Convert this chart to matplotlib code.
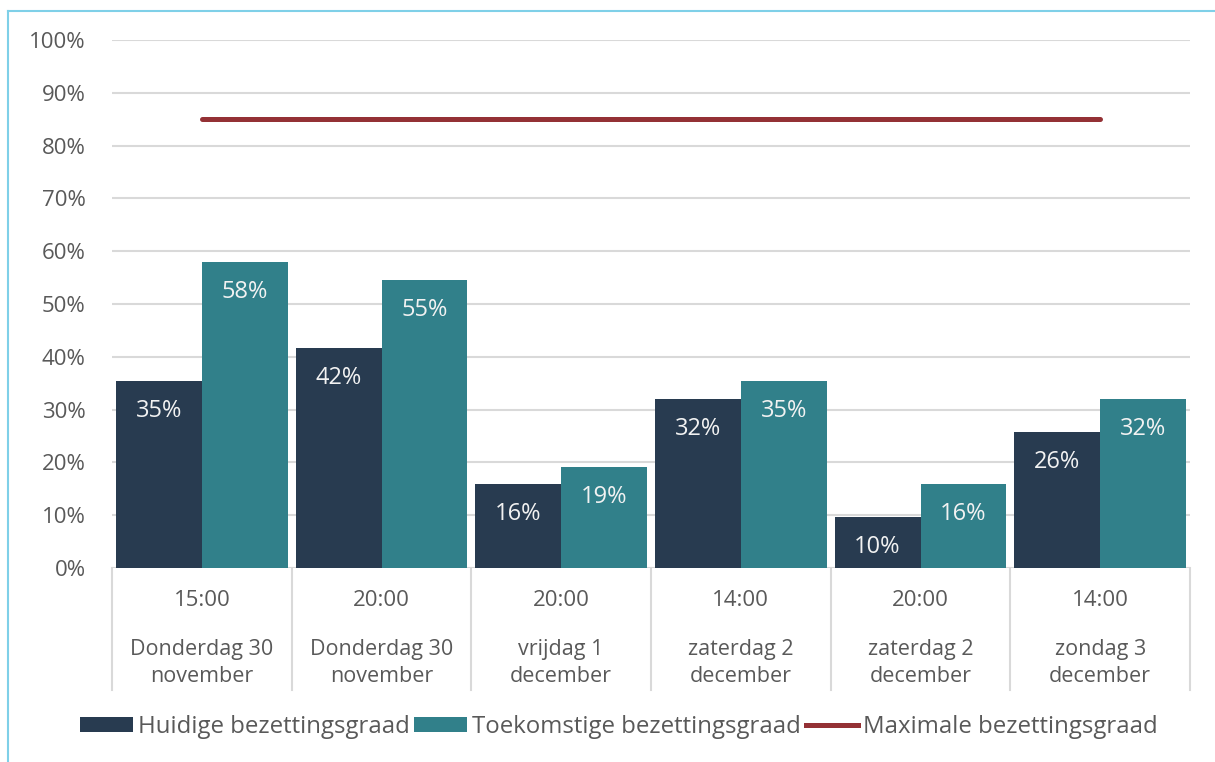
import matplotlib.pyplot as plt
import numpy as np
from matplotlib.patches import Patch
from matplotlib.lines import Line2D
from matplotlib.transforms import blended_transform_factory

plt.rcParams['font.family'] = ['Open Sans', 'DejaVu Sans']
plt.rcParams['font.size'] = 16

# data
times = ['15:00', '20:00', '20:00', '14:00', '20:00', '14:00']
days = ['Donderdag 30\nnovember', 'Donderdag 30\nnovember', 'vrijdag 1\ndecember',
        'zaterdag 2\ndecember', 'zaterdag 2\ndecember', 'zondag 3\ndecember']
huidig = [0.354, 0.417, 0.159, 0.320, 0.096, 0.258]
toekomst = [0.580, 0.546, 0.191, 0.354, 0.159, 0.320]
maximaal = [0.85] * 6

navy = '#283b50'
teal = '#31808a'
red = '#943135'
grey = '#595959'
gridc = '#d9d9d9'

W, H = 1215, 762
fig = plt.figure(figsize=(W / 100, H / 100), dpi=100)
fig.patch.set_facecolor('white')

ax = fig.add_axes([112 / W, (H - 568) / H, 1078 / W, 528 / H])
x = np.arange(len(times))
bw = 0.478

b1 = ax.bar(x - bw / 2, huidig, bw, color=navy, zorder=3)
b2 = ax.bar(x + bw / 2, toekomst, bw, color=teal, zorder=3)
ax.plot(x, maximaal, color=red, lw=3.6, solid_capstyle='round', zorder=4)

for bars, vals in ((b1, huidig), (b2, toekomst)):
    for r, v in zip(bars, vals):
        ax.annotate('%d%%' % round(v * 100), (r.get_x() + r.get_width() / 2, v),
                    xytext=(0, -30), textcoords='offset pixels',
                    ha='center', va='center', color='#f2f2f2', fontsize=17, zorder=5)

ax.set_xlim(-0.5, len(times) - 0.5)
ax.set_ylim(0, 1)
ax.set_yticks(np.arange(0, 1.01, 0.1))
ax.set_yticklabels(['%d%%' % (t * 10) for t in range(11)], color=grey)
ax.tick_params(axis='y', length=0, pad=19)
ax.set_xticks([])
ax.grid(axis='y', color=gridc, lw=1.5, zorder=0)
for s in ax.spines.values():
    s.set_visible(False)

# category axis (time + day), with separators
tr = blended_transform_factory(ax.transData, ax.transAxes)
px = 1 / 528
for i in range(len(times) + 1):
    ax.plot([i - 0.5, i - 0.5], [0, -122 * px], color=gridc, lw=1.5,
            transform=tr, clip_on=False)
for i in x:
    ax.text(i, -33 * px, times[i], transform=tr, ha='center', va='center', color=grey)
    ax.text(i, -95 * px, days[i], transform=tr, ha='center', va='center',
            color=grey, fontsize=15.5, linespacing=1.4)

handles = [Patch(facecolor=navy), Patch(facecolor=teal), Line2D([], [], color=red, lw=3.6)]
names = ['Huidige bezettingsgraad', 'Toekomstige bezettingsgraad', 'Maximale bezettingsgraad']
leg = fig.legend(handles, names, loc='center', bbox_to_anchor=(619 / W, 1 - 727 / H),
                 ncol=3, frameon=False, handlelength=2.2, handleheight=0.6,
                 handletextpad=0.2, columnspacing=0.2, fontsize=17.3)
for t in leg.get_texts():
    t.set_color(grey)

# light blue frame of the chart area
fig.add_artist(Line2D([8 / W, 8 / W], [0, 1 - 11 / H], color='#7fd0e8', lw=1.5))
fig.add_artist(Line2D([8 / W, 1], [1 - 11 / H, 1 - 11 / H], color='#7fd0e8', lw=1.5))

fig.savefig('out.png', dpi=100)
